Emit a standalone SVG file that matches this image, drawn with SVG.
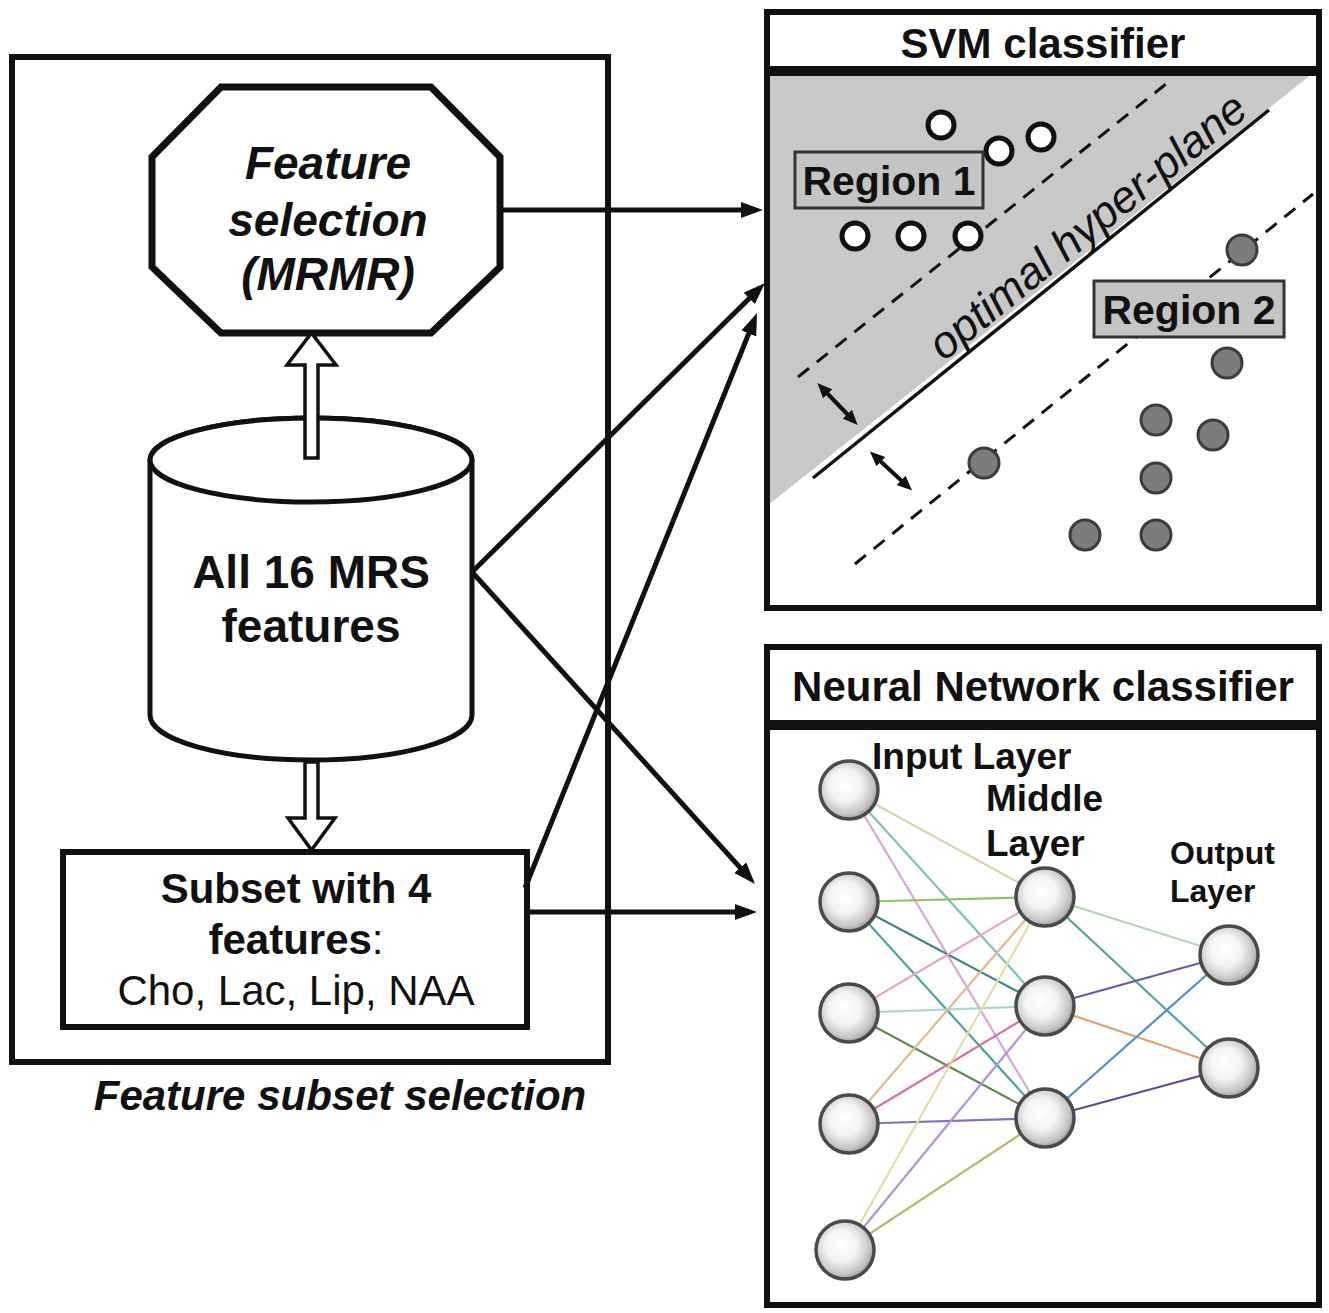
<svg xmlns="http://www.w3.org/2000/svg" width="1329" height="1313" viewBox="0 0 1329 1313">
<style>
text{font-family:"Liberation Sans",Arial,Helvetica,sans-serif;fill:#111}
.b{font-weight:bold}
.bi{font-weight:bold;font-style:italic}
.box{fill:#fff;stroke:#111;stroke-width:6}
.conn{stroke:#111;stroke-width:5;fill:none}
.dash{stroke:#111;stroke-width:3;stroke-dasharray:14 10;fill:none}
.open{fill:#fff;stroke:#111;stroke-width:5}
.dot{fill:#7c7c7c;stroke:#3c3c3c;stroke-width:3}
.reg{fill:#c4c4c4;stroke:#333;stroke-width:3}
.nn{fill:url(#sph);stroke:#4a4a4a;stroke-width:3.5}
.w{stroke-width:2.2;fill:none}
.hollow{fill:#fff;stroke:#111;stroke-width:3.5;stroke-linejoin:miter}
</style>
<defs>
<marker id="ah" markerUnits="userSpaceOnUse" markerWidth="24" markerHeight="18" refX="8" refY="8" orient="auto"><path d="M0,0 L22,8 L0,16 z" fill="#111"/></marker>
<marker id="dh" markerUnits="userSpaceOnUse" markerWidth="16" markerHeight="14" refX="4" refY="6.5" orient="auto-start-reverse"><path d="M0,0 L15,6.5 L0,13 z" fill="#111"/></marker>
<radialGradient id="sph" cx="0.45" cy="0.45" r="0.6" fx="0.42" fy="0.4">
<stop offset="0" stop-color="#ffffff"/>
<stop offset="0.45" stop-color="#f4f4f4"/>
<stop offset="0.8" stop-color="#c4c4c4"/>
<stop offset="1" stop-color="#8a8a8a"/>
</radialGradient>
</defs>
<rect width="1329" height="1313" fill="#fff"/>

<g id="feature-subset-selection">
<rect class="box" x="12" y="57" width="596" height="1005"/>
<text class="bi" x="340" y="1110" font-size="42" text-anchor="middle">Feature subset selection</text>
</g>

<g id="feature-selection-mrmr">
<polygon points="221,87 431,87 500,157 500,267 431,333 221,333 152,267 152,157" fill="#fff" stroke="#111" stroke-width="7"/>
<text class="bi" font-size="46" text-anchor="middle"><tspan x="328" y="179">Feature</tspan><tspan x="328" y="236">selection</tspan><tspan x="328" y="290">(MRMR)</tspan></text>
</g>

<g id="all-16-mrs-features">
<path d="M150,460 L150,715 A161,45 0 0 0 472,715 L472,460 A161,42 0 0 0 150,460 Z" fill="#fff" stroke="#111" stroke-width="5"/>
<ellipse cx="311" cy="460" rx="161" ry="42" fill="#fff" stroke="#111" stroke-width="5"/>
<text class="b" font-size="46" text-anchor="middle"><tspan x="311" y="588">All 16 MRS</tspan><tspan x="311" y="642">features</tspan></text>
</g>

<g id="subset-4-features">
<rect x="63" y="852" width="464" height="175" fill="#fff" stroke="#111" stroke-width="6"/>
<text font-size="42" text-anchor="middle"><tspan class="b" x="296" y="903">Subset with 4</tspan><tspan x="296" y="954"><tspan class="b">features</tspan>:</tspan><tspan x="296" y="1005">Cho, Lac, Lip, NAA</tspan></text>
</g>

<g id="svm-classifier">
<rect class="box" x="767" y="12" width="552" height="57"/>
<text class="b" x="1043" y="58" font-size="42" text-anchor="middle">SVM classifier</text>
<rect x="767" y="73" width="552" height="535" fill="#fff"/>
<polygon points="768,74 1312,74 768,505" fill="#c8c8c8"/>
<line class="dash" x1="798" y1="377" x2="1171" y2="80"/>
<line class="dash" x1="855" y1="564" x2="1313" y2="194"/>
<line x1="813" y1="478" x2="1269" y2="110" stroke="#111" stroke-width="3.5"/>
<text x="1097" y="238" font-size="45" font-style="italic" text-anchor="middle" transform="rotate(-39 1097 238)">optimal hyper-plane</text>
<line x1="825" y1="391" x2="850" y2="417" stroke="#111" stroke-width="4" marker-start="url(#dh)" marker-end="url(#dh)"/>
<line x1="878" y1="459" x2="904" y2="483" stroke="#111" stroke-width="4" marker-start="url(#dh)" marker-end="url(#dh)"/>
<circle class="open" cx="941" cy="125" r="13"/>
<circle class="open" cx="999" cy="151" r="13"/>
<circle class="open" cx="1041" cy="137" r="13"/>
<rect class="reg" x="795" y="152" width="188" height="56"/>
<text class="b" x="889" y="195" font-size="41" text-anchor="middle">Region 1</text>
<circle class="open" cx="855" cy="236" r="13"/>
<circle class="open" cx="911" cy="236" r="13"/>
<circle class="open" cx="968" cy="236" r="13"/>
<circle class="dot" cx="1242" cy="250" r="15"/>
<rect class="reg" x="1094" y="281" width="190" height="56"/>
<text class="b" x="1189" y="324" font-size="41" text-anchor="middle">Region 2</text>
<circle class="dot" cx="1227" cy="363" r="15"/>
<circle class="dot" cx="1156" cy="420" r="15"/>
<circle class="dot" cx="1213" cy="435" r="15"/>
<circle class="dot" cx="1156" cy="478" r="15"/>
<circle class="dot" cx="984" cy="463" r="15"/>
<circle class="dot" cx="1085" cy="535" r="15"/>
<circle class="dot" cx="1156" cy="535" r="15"/>
<rect x="767" y="73" width="552" height="535" fill="none" stroke="#111" stroke-width="6"/>
</g>

<g id="neural-network-classifier">
<rect class="box" x="767" y="647" width="552" height="76"/>
<text class="b" x="1043" y="701" font-size="42" text-anchor="middle">Neural Network classifier</text>
<rect class="box" x="767" y="727" width="552" height="578"/>
<g id="nn-weights">
<line class="w" stroke="#ddd4a8" x1="849" y1="790" x2="1045" y2="897"/>
<line class="w" stroke="#7cc4bc" x1="849" y1="790" x2="1045" y2="1006"/>
<line class="w" stroke="#d6a6d8" x1="849" y1="790" x2="1045" y2="1118"/>
<line class="w" stroke="#88c46c" x1="849" y1="902" x2="1045" y2="897"/>
<line class="w" stroke="#3a8888" x1="849" y1="902" x2="1045" y2="1006"/>
<line class="w" stroke="#46a6a6" x1="849" y1="902" x2="1045" y2="1118"/>
<line class="w" stroke="#e6a6c6" x1="849" y1="1013" x2="1045" y2="897"/>
<line class="w" stroke="#a4dad6" x1="849" y1="1013" x2="1045" y2="1006"/>
<line class="w" stroke="#5a8a4e" x1="849" y1="1013" x2="1045" y2="1118"/>
<line class="w" stroke="#e6b88e" x1="849" y1="1124" x2="1045" y2="897"/>
<line class="w" stroke="#dc6e9e" x1="849" y1="1124" x2="1045" y2="1006"/>
<line class="w" stroke="#8870c0" x1="849" y1="1124" x2="1045" y2="1118"/>
<line class="w" stroke="#e6dea0" x1="845" y1="1250" x2="1045" y2="897"/>
<line class="w" stroke="#b290de" x1="845" y1="1250" x2="1045" y2="1006"/>
<line class="w" stroke="#b0c060" x1="845" y1="1250" x2="1045" y2="1118"/>
<line class="w" stroke="#b0d6b0" x1="1045" y1="897" x2="1229" y2="955"/>
<line class="w" stroke="#4ea6a6" x1="1045" y1="897" x2="1229" y2="1068"/>
<line class="w" stroke="#5e5eb0" x1="1045" y1="1006" x2="1229" y2="955"/>
<line class="w" stroke="#e0a070" x1="1045" y1="1006" x2="1229" y2="1068"/>
<line class="w" stroke="#4e8ed0" x1="1045" y1="1118" x2="1229" y2="955"/>
<line class="w" stroke="#5050a0" x1="1045" y1="1118" x2="1229" y2="1068"/>
</g>
<circle class="nn" cx="849" cy="790" r="29"/>
<circle class="nn" cx="849" cy="902" r="29"/>
<circle class="nn" cx="849" cy="1013" r="29"/>
<circle class="nn" cx="849" cy="1124" r="29"/>
<circle class="nn" cx="845" cy="1250" r="29"/>
<circle class="nn" cx="1045" cy="897" r="29"/>
<circle class="nn" cx="1045" cy="1006" r="29"/>
<circle class="nn" cx="1045" cy="1118" r="29"/>
<circle class="nn" cx="1229" cy="955" r="29"/>
<circle class="nn" cx="1229" cy="1068" r="29"/>
<text class="b" x="872" y="769" font-size="37">Input Layer</text>
<text class="b" font-size="37"><tspan x="986" y="811">Middle</tspan><tspan x="986" y="856">Layer</tspan></text>
<text class="b" font-size="32"><tspan x="1170" y="864">Output</tspan><tspan x="1170" y="902">Layer</tspan></text>
</g>

<g id="connectors">
<polygon class="hollow" points="305,458 305,365 287,365 311.5,333 336,365 318,365 318,458"/>
<polygon class="hollow" points="305,762 305,818 288,818 311.5,850 335,818 318,818 318,762"/>
<line class="conn" x1="500" y1="210" x2="749" y2="210" marker-end="url(#ah)"/>
<line class="conn" x1="472" y1="572" x2="755" y2="292.8" marker-end="url(#ah)"/>
<line class="conn" x1="525" y1="888" x2="751.8" y2="326" marker-end="url(#ah)"/>
<line class="conn" x1="472" y1="572" x2="745.6" y2="873.6" marker-end="url(#ah)"/>
<line class="conn" x1="527" y1="912" x2="743" y2="912" marker-end="url(#ah)"/>
</g>
</svg>
